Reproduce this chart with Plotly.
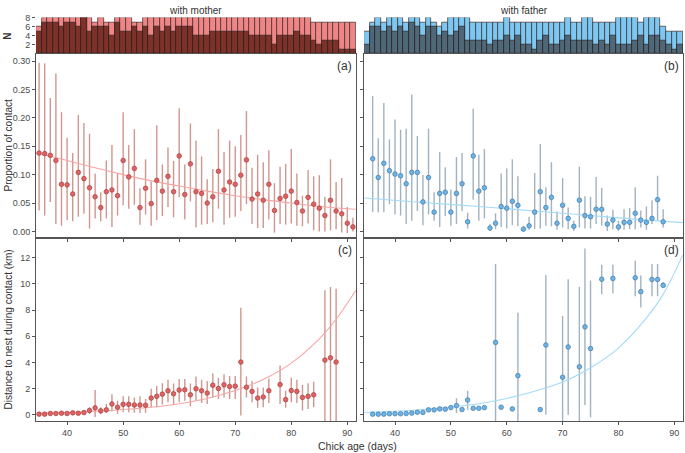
import plotly.graph_objects as go

# ---------------- data ----------------
hist_ages = list(range(35, 92))
n_total_mother = [6,8,8,8,8,8,8,8,8,8, 7,8,7,7,8,8,8,7,7,8, 8,8,8,8,8,8,8,8,8,8,
                  8,8,8,8,8,8,8,8,8,8, 8,8,8,8,8,8,8,8,8,7, 7,7,7,7,7,7,7]
n_contact_mother = [5,7,7,7,6,7,7,6,8,5, 6,6,6,4,7,5,5,6,5,6, 4,6,5,6,5,6,6,6,4,4,
                    4,5,5,5,5,5,5,5,4,4, 4,4,2,4,4,4,5,4,4,3, 2,3,3,3,1,1,1]
n_total_father = [5,7,8,7,8,8,8,7,8,8, 7,8,7,6,7,8,8,8,8,7, 7,7,7,7,7,8,7,7,7,7,
                  7,7,7,7,7,7,8,7,7,8, 8,7,7,7,7,8,8,8,8,7, 8,8,8,6,5,5,5]
n_contact_father = [2,6,6,5,6,5,6,5,7,6, 4,6,6,4,5,4,5,6,3,3, 3,3,2,3,3,4,3,4,2,2,
                    1,3,4,2,2,3,4,3,3,3, 3,2,3,2,4,2,2,2,3,4, 2,4,4,3,2,1,2]

# (a) proportion of contact with mother
age_prop_m = list(range(35, 92))
prop_m = [0.138,0.137,0.134,0.125,0.083,0.082,0.066,0.104,0.093,0.077,
          0.061,0.042,0.070,0.073,0.063,0.125,0.096,0.111,0.042,0.076,
          0.049,0.090,0.071,0.097,0.070,0.133,0.065,0.119,0.070,0.067,
          0.050,0.061,0.106,0.073,0.087,0.083,0.099,0.126,0.057,0.066,
          0.055,0.083,0.037,0.058,0.062,0.071,0.051,0.036,0.060,0.048,
          0.041,0.028,0.055,0.036,0.031,0.0145,0.008]
prop_m_lo = [0.037,0.028,0.052,0.013,0.010,0.020,0.018,0.026,0.031,0.005,
             0.023,0.018,0.023,0.008,0.028,0.046,0.040,0.047,0.012,0.030,
             0.010,0.020,0.027,0.043,0.025,0.060,0.021,0.053,0.007,0.012,
             0.013,0.016,0.040,0.012,0.024,0.026,0.036,0.048,0.013,0.006,
             0.006,0.021,-0.002,0.013,0.012,0.014,0.010,0.009,0.014,0.002,
             0.000,0.000,0.002,0.004,-0.002,-0.003,0.000]
prop_m_hi = [0.297,0.296,0.235,0.278,0.210,0.165,0.138,0.205,0.191,0.172,
             0.102,0.069,0.125,0.152,0.103,0.210,0.152,0.180,0.076,0.127,
             0.088,0.187,0.118,0.148,0.124,0.217,0.118,0.190,0.160,0.132,
             0.092,0.110,0.180,0.140,0.160,0.150,0.170,0.212,0.112,0.135,
             0.122,0.143,0.085,0.114,0.119,0.145,0.102,0.063,0.108,0.097,
             0.099,0.061,0.127,0.087,0.094,0.043,0.024]
fit_age_a = [34.5, 40, 45, 50, 55, 60, 65, 70, 75, 80, 85, 91.5]
fit_prop_m = [0.138, 0.125, 0.112, 0.100, 0.089, 0.080, 0.071, 0.063, 0.056, 0.050, 0.044, 0.039]

# (b) proportion of contact with father
age_prop_f = list(range(36, 89))
prop_f = [0.128,0.095,0.120,0.107,0.101,0.098,0.084,0.104,0.104,0.052,
          0.095,0.034,0.067,0.069,0.034,0.067,0.084,0.017,0.133,0.071,
          0.077,0.006,0.0145,0.044,0.041,0.053,0.046,0.004,0.010,0.034,
          0.070,0.042,0.060,0.0145,0.046,0.023,0.009,0.055,0.028,0.026,
          0.039,0.039,0.013,0.020,0.008,0.016,0.016,0.032,0.020,0.016,
          0.023,0.056,0.017]
prop_f_lo = [0.034,0.034,0.034,0.048,0.030,0.028,0.013,0.019,0.036,0.011,
             0.030,0.019,0.008,0.027,0.010,0.013,0.036,0.005,0.056,0.019,
             0.023,0.001,0.004,0.008,0.005,0.011,0.009,0.001,0.003,0.004,
             0.005,0.010,0.009,0.003,0.007,0.004,0.001,0.007,0.005,0.005,
             0.013,0.010,0.001,0.004,0.001,0.003,0.004,0.004,0.007,0.003,
             0.013,0.019,0.007]
prop_f_hi = [0.2385,0.164,0.226,0.162,0.197,0.179,0.181,0.241,0.168,0.100,
             0.181,0.069,0.140,0.113,0.074,0.131,0.138,0.033,0.216,0.135,
             0.145,0.013,0.032,0.102,0.111,0.127,0.097,0.010,0.026,0.103,
             0.154,0.078,0.122,0.035,0.094,0.042,0.019,0.114,0.062,0.061,
             0.096,0.077,0.028,0.038,0.019,0.039,0.041,0.078,0.037,0.044,
             0.055,0.098,0.039]
fit_age_b = [34.5, 45, 55, 65, 75, 85, 91.5]
fit_prop_f = [0.059, 0.051, 0.044, 0.036, 0.028, 0.020, 0.0155]

# (c) distance to nest, mother
age_dist_m = [35,36,37,38,39,40,41,42,43,44,45,46,47,48,49,50,51,52,53,54,
              55,56,57,58,59,60,61,62,63,64,65,66,67,68,69,70,71,72,73,74,
              75,76,78,79,80,81,82,83,84,86,87,88]
dist_m = [0.05,0.05,0.10,0.10,0.12,0.10,0.15,0.12,0.17,0.33,
          0.53,0.30,0.38,0.83,0.58,0.80,0.80,0.75,0.75,0.73,
          1.28,1.41,1.58,1.84,1.61,1.89,1.91,1.53,1.99,1.84,
          1.66,2.26,2.01,2.29,2.16,2.19,4.03,2.11,1.79,1.28,
          1.36,1.84,2.31,1.16,1.86,1.79,1.33,1.41,1.53,4.18,4.35,4.03]
dist_m_lo = [0.02,0.02,0.06,0.06,0.08,0.06,0.10,0.07,0.10,0.07,
             -0.17,0.05,0.13,0.25,0.08,0.20,0.20,0.15,0.13,0.15,
             0.58,0.58,0.78,0.96,0.75,0.96,1.08,0.65,1.08,0.90,
             0.83,1.33,1.21,1.33,1.21,1.21,-0.05,1.33,0.96,0.53,
             0.58,0.90,0.83,0.53,0.96,0.90,0.33,0.45,0.58,-1.5,-1.5,-1.5]
dist_m_hi = [0.08,0.08,0.14,0.14,0.17,0.14,0.20,0.18,0.25,0.58,
             1.89,0.58,0.83,1.58,1.08,1.41,1.41,1.33,1.41,1.20,
             1.99,2.21,2.42,2.67,2.39,2.74,2.74,2.39,2.92,2.67,
             2.59,3.17,2.84,3.09,2.97,2.97,8.18,2.92,2.59,2.09,
             2.09,2.77,3.77,1.84,2.84,2.67,2.29,2.42,2.52,9.51,9.76,9.64]
fit_age_cd = [34.5, 40, 45, 50, 55, 60, 65, 70, 75, 80, 85, 88, 91.5]
fit_dist_m = [0.12, 0.18, 0.27, 0.40, 0.58, 0.85, 1.25, 1.85, 2.70, 3.95, 5.80, 7.30, 9.50]

# (d) distance to nest, father
age_dist_f = [36,37,38,39,40,41,42,43,44,45,46,47,48,49,50,51,52,53,54,55,56,
              58,59,61,62,66,67,70,71,73,74,75,77,79,83,84,86,87,88]
dist_f = [0.05,0.05,0.05,0.08,0.08,0.08,0.10,0.13,0.20,0.18,
          0.38,0.38,0.45,0.43,0.55,0.70,0.40,1.13,0.50,0.50,0.55,
          5.53,0.58,0.45,2.99,0.40,5.33,2.87,5.18,3.67,6.72,5.06,
          10.36,10.42,10.47,9.41,10.34,10.34,9.89]
dist_f_lo = [0.03,0.03,0.03,0.05,0.05,0.05,0.06,0.08,0.14,0.12,
             0.30,0.30,0.35,0.33,0.42,0.13,0.30,0.38,0.40,0.40,0.44,
             -1.5,0.48,0.36,-1.5,0.32,0.0,-1.5,0.0,-1.5,0.75,-0.18,
             9.21,9.28,9.06,8.20,9.06,9.06,9.76]
dist_f_hi = [0.07,0.07,0.07,0.11,0.11,0.11,0.14,0.18,0.26,0.24,
             0.46,0.46,0.55,0.53,0.68,1.26,0.50,1.84,0.60,0.60,0.66,
             11.52,0.68,0.54,7.80,0.48,10.69,7.55,10.36,9.76,12.70,10.26,
             11.47,11.47,11.77,10.64,11.52,11.52,10.14]
fit_dist_f = [0.18, 0.27, 0.40, 0.60, 0.85, 1.25, 1.80, 2.50, 3.60, 5.10, 7.40, 9.20, 12.20]

x_ticks = [40, 50, 60, 70, 80, 90]
prop_ticks = [0.00, 0.05, 0.10, 0.15, 0.20, 0.25, 0.30]
prop_tick_labels = ["0.00", "0.05", "0.10", "0.15", "0.20", "0.25", "0.30"]
dist_ticks = [0, 2, 4, 6, 8, 10, 12]
n_ticks = [2, 4, 6, 8]

# ---------------- styling ----------------
W, H = 685, 453
FONT = "Arial, Liberation Sans, sans-serif"
TICKC = "#4a4a4a"
FRAME = "#555555"

M_LIGHT, M_DARK = "#f08585", "#7d3128"
F_LIGHT, F_DARK = "#7cc8f2", "#4f6878"
M_PT, M_PT_EDGE, M_CI, M_FIT = "#e06262", "#a83c3c", "rgba(190,110,100,0.72)", "#f7a5a5"
F_PT, F_PT_EDGE, F_CI, F_FIT = "#6db3e6", "#3f78a6", "rgba(125,148,168,0.72)", "#a3daf8"

def px_x(p): return p / W
def px_y(p): return 1 - p / H

XL = [px_x(36), px_x(356)]
XR = [px_x(364), px_x(683)]
YH = [px_y(49.5), px_y(12.7)]
YA = [px_y(235.7), px_y(49.5)]
YC = [px_y(421), px_y(235.7)]
XRANGE = [34.45, 91.55]

fig = go.Figure()

# histograms
for xa, ya, tot, con, cl, cd in [("x", "y", n_total_mother, n_contact_mother, M_LIGHT, M_DARK),
                                 ("x2", "y2", n_total_father, n_contact_father, F_LIGHT, F_DARK)]:
    fig.add_trace(go.Bar(x=hist_ages, y=tot, width=1, marker=dict(color=cl, line=dict(color="#3a2a2a", width=0.7)),
                         xaxis=xa, yaxis=ya, showlegend=False, hoverinfo="skip"))
    fig.add_trace(go.Bar(x=hist_ages, y=con, width=1, marker=dict(color=cd, line=dict(color="#2a2020", width=0.7)),
                         xaxis=xa, yaxis=ya, showlegend=False, hoverinfo="skip"))

def panel(xa, ya, ages, vals, lo, hi, fa, fv, pt, edge, ci, fitc):
    fig.add_trace(go.Scatter(x=ages, y=vals, mode="markers", xaxis=xa, yaxis=ya,
                             marker=dict(size=4, color="rgba(0,0,0,0)"),
                             error_y=dict(type="data", symmetric=False,
                                          array=[h - v for h, v in zip(hi, vals)],
                                          arrayminus=[v - l for v, l in zip(vals, lo)],
                                          color=ci, thickness=1.4, width=0),
                             showlegend=False, hoverinfo="skip"))
    fig.add_trace(go.Scatter(x=fa, y=fv, mode="lines", line=dict(color=fitc, width=1.1, shape="spline"),
                             xaxis=xa, yaxis=ya, showlegend=False, hoverinfo="skip"))
    fig.add_trace(go.Scatter(x=ages, y=vals, mode="markers", xaxis=xa, yaxis=ya,
                             marker=dict(size=4.6, color=pt, line=dict(color=edge, width=0.7)),
                             showlegend=False, hoverinfo="skip"))

panel("x3", "y3", age_prop_m, prop_m, prop_m_lo, prop_m_hi, fit_age_a, fit_prop_m, M_PT, M_PT_EDGE, M_CI, M_FIT)
panel("x4", "y4", age_prop_f, prop_f, prop_f_lo, prop_f_hi, fit_age_b, fit_prop_f, F_PT, F_PT_EDGE, F_CI, F_FIT)
panel("x5", "y5", age_dist_m, dist_m, dist_m_lo, dist_m_hi, fit_age_cd, fit_dist_m, M_PT, M_PT_EDGE, M_CI, M_FIT)
panel("x6", "y6", age_dist_f, dist_f, dist_f_lo, dist_f_hi, fit_age_cd, fit_dist_f, F_PT, F_PT_EDGE, F_CI, F_FIT)

tickfont = dict(family=FONT, size=9, color=TICKC)

def xax(domain, anchor, labels, ticks=True):
    return dict(domain=domain, anchor=anchor, range=XRANGE, tickvals=x_ticks if ticks else [],
                ticks="outside" if ticks else "", ticklen=3, tickcolor=FRAME, showticklabels=labels,
                tickfont=tickfont, showgrid=False, zeroline=False,
                showline=ticks, linecolor=FRAME, linewidth=1, mirror=ticks)

def yax(domain, anchor, rng, tv, tt, labels, box=True):
    return dict(domain=domain, anchor=anchor, range=rng, tickvals=tv, ticktext=tt,
                ticks="outside", ticklen=3, tickcolor=FRAME, showticklabels=labels,
                tickfont=tickfont, showgrid=False, zeroline=False,
                showline=True, linecolor=FRAME, linewidth=1, mirror=box)

fig.update_layout(
    width=W, height=H, margin=dict(l=0, r=0, t=0, b=0),
    paper_bgcolor="white", plot_bgcolor="white", barmode="overlay", bargap=0,
    xaxis=xax(XL, "y", False, ticks=False),
    yaxis=dict(domain=YH, anchor="x", range=[0, 8], tickvals=n_ticks, ticks="outside", ticklen=3,
               tickcolor=FRAME, tickfont=tickfont, showgrid=False, zeroline=False, showline=False),
    xaxis2=xax(XR, "y2", False, ticks=False),
    yaxis2=dict(domain=YH, anchor="x2", range=[0, 8], showticklabels=False, ticks="",
                showgrid=False, zeroline=False, showline=False),
    xaxis3=xax(XL, "y3", False),
    yaxis3=yax(YA, "x3", [-0.0117, 0.3125], prop_ticks, prop_tick_labels, True),
    xaxis4=xax(XR, "y4", False),
    yaxis4=yax(YA, "x4", [-0.0117, 0.3125], prop_ticks, prop_tick_labels, False),
    xaxis5=xax(XL, "y5", True),
    yaxis5=yax(YC, "x5", [-0.5, 13.5], dist_ticks, [str(t) for t in dist_ticks], True),
    xaxis6=xax(XR, "y6", True),
    yaxis6=yax(YC, "x6", [-0.5, 13.5], dist_ticks, [str(t) for t in dist_ticks], False),
)

ann = []
def text(x, y, s, size=10, angle=0, color="#333333", xanchor="center", yanchor="middle"):
    ann.append(dict(x=px_x(x), y=px_y(y), xref="paper", yref="paper", text=s, showarrow=False,
                    textangle=angle, font=dict(family=FONT, size=size, color=color),
                    xanchor=xanchor, yanchor=yanchor))

text(196, 6, "with mother", 10)
text(524, 6, "with father", 10)
text(8, 31, "<b>N</b>", 10, angle=-90)
text(8, 142, "Proportion of contact", 10, angle=-90)
text(8, 328, "Distance to nest during contact (km)", 10, angle=-90)
text(357, 446, "Chick age (days)", 10.5)
text(354, 62, "(a)", 12, xanchor="right")
text(681, 62, "(b)", 12, xanchor="right")
text(354, 248, "(c)", 12, xanchor="right")
text(681, 248, "(d)", 12, xanchor="right")
fig.update_layout(annotations=ann)

fig.write_html("out.html")
